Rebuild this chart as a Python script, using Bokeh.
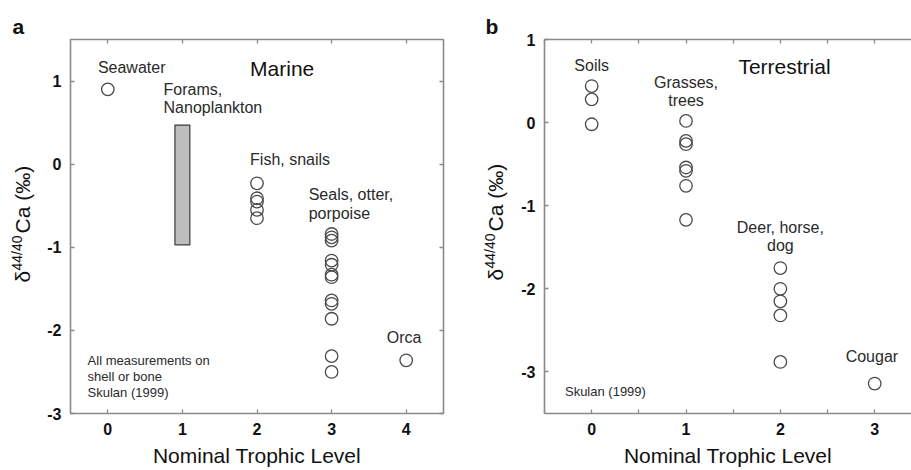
import math
from bokeh.plotting import figure
from bokeh.models import Label, LinearAxis, FixedTicker, ColumnDataSource, Range1d
from bokeh.layouts import row
from bokeh.embed import file_html
from bokeh.resources import INLINE
from bokeh.core.properties import value

# ---------------- data ----------------
# Panel a: Marine
seawater = [0.90]                     # trophic level 0
forams_range = [-0.97, 0.47]          # trophic level 1 (bar)
fish_snails = [-0.23, -0.41, -0.45, -0.55, -0.65]            # level 2
seals_otter_porpoise = [-0.84, -0.88, -0.92, -1.16, -1.21, -1.33,
                        -1.36, -1.64, -1.68, -1.86, -2.31, -2.50]  # level 3
orca = [-2.36]                        # level 4

# Panel b: Terrestrial
soils = [0.44, 0.28, -0.02]                                   # level 0
grasses_trees = [0.02, -0.22, -0.26, -0.54, -0.58, -0.76, -1.17]  # level 1
deer_horse_dog = [-1.75, -2.00, -2.15, -2.32, -2.88]          # level 2
cougar = [-3.14]                                              # level 3

x_ticks_a = [0, 1, 2, 3, 4]
y_ticks_a = [-3, -2, -1, 0, 1]
x_ticks_b = [0, 1, 2, 3]
x_minor_b = [-0.5, 0.5, 1.5, 2.5, 3.5]
y_ticks_b = [-3, -2, -1, 0, 1]

FONT = "Liberation Sans"
TXT = "#2a2a2a"
DARK = "#111111"
FRAME = "#8a8a8a"
H = 470
FRAME_TOP, FRAME_BOTTOM = 39, 413


def group_source(groups):
    xs, ys = [], []
    for lvl, vals in groups:
        xs += [lvl] * len(vals)
        ys += vals
    return ColumnDataSource(dict(x=xs, y=ys))


def lab(p, x, y, text, size=16, align="left", color=TXT):
    p.add_layout(Label(x=x, y=y, text=text, text_font=FONT,
                       text_font_size=f"{size}px", text_align=align,
                       text_baseline="middle", text_color=color))


def style_axis(ax, ticks, labels=True, line=False, minor=None):
    ax.ticker = FixedTicker(ticks=ticks, minor_ticks=minor or [])
    ax.major_tick_in = 4
    ax.major_tick_out = 0
    ax.minor_tick_in = 4 if minor else 0
    ax.minor_tick_out = 0
    ax.major_tick_line_color = FRAME
    ax.minor_tick_line_color = FRAME
    ax.major_tick_line_width = 1.3
    ax.minor_tick_line_width = 1.3
    ax.axis_line_color = FRAME if line else None
    ax.axis_line_width = 1.6
    if labels:
        ax.major_label_text_font = FONT
        ax.major_label_text_font_style = "bold"
        ax.major_label_text_font_size = "16px"
        ax.major_label_text_color = DARK
        ax.major_label_standoff = 9
        ax.major_label_overrides = {t: str(t) for t in ticks}
    else:
        ax.major_label_overrides = {t: "" for t in ticks}
        ax.major_label_standoff = 0


def x_title(ax):
    ax.axis_label = "Nominal Trophic Level"
    ax.axis_label_text_font = FONT
    ax.axis_label_text_font_size = "21px"
    ax.axis_label_text_font_style = "normal"
    ax.axis_label_text_color = DARK
    ax.axis_label_standoff = 6


def base_fig(xr, yr, w, bl, br, bt, bb):
    p = figure(x_range=xr, y_range=yr, width=w, height=H,
               output_backend="svg", toolbar_location=None,
               min_border_left=bl, min_border_right=br,
               min_border_top=bt, min_border_bottom=bb)
    p.grid.visible = False
    p.background_fill_color = "white"
    p.border_fill_color = "white"
    return p


def side_fig(w, letter, letter_off, ax_x, sup_dx, y_delta, y_sup, y_ca):
    """Narrow figure carrying the panel letter (title) and the rotated y title.
    Its frame is aligned with the panels' frames, so y is -(page pixel y)."""
    s = figure(x_range=Range1d(0, w), y_range=Range1d(-FRAME_BOTTOM, -FRAME_TOP),
               width=w, height=H, output_backend="svg", toolbar_location=None,
               min_border_left=0, min_border_right=0,
               min_border_top=FRAME_TOP, min_border_bottom=H - FRAME_BOTTOM)
    s.axis.visible = False
    s.grid.visible = False
    s.outline_line_color = None
    s.title.text = letter
    s.title.align = "left"
    s.title.offset = letter_off
    s.title.standoff = 3
    s.title.text_font = FONT
    s.title.text_font_size = "21px"
    s.title.text_font_style = "bold"
    s.title.text_color = DARK
    rot = math.pi / 2
    s.text(x=[ax_x], y=[-y_delta], text=["δ"], text_font=value(FONT),
           text_font_size=value("21px"), angle=rot, text_align="left",
           text_baseline="middle", text_color=DARK)
    s.text(x=[ax_x - sup_dx], y=[-y_sup], text=["44/40"], text_font=value(FONT),
           text_font_size=value("14px"), angle=rot, text_align="left",
           text_baseline="middle", text_color=DARK)
    s.text(x=[ax_x], y=[-y_ca], text=["Ca (‰)"], text_font=value(FONT),
           text_font_size=value("21px"), angle=rot, text_align="left",
           text_baseline="middle", text_color=DARK)
    return s


# ---------------- panel a ----------------
sa = side_fig(40, "a", 12, 22, 6, 282, 270, 233)

pa = base_fig((-0.5, 4.5), (-3, 1.5), 438, 30, 35, FRAME_TOP, H - FRAME_BOTTOM)
pa.outline_line_color = FRAME
pa.outline_line_width = 1.6
style_axis(pa.xaxis[0], x_ticks_a)
style_axis(pa.yaxis[0], y_ticks_a)
x_title(pa.xaxis[0])
top_a = LinearAxis()
style_axis(top_a, x_ticks_a, labels=False)
pa.add_layout(top_a, "above")
right_a = LinearAxis()
style_axis(right_a, y_ticks_a, labels=False)
pa.add_layout(right_a, "right")

pa.vbar(x=[1], bottom=[forams_range[0]], top=[forams_range[1]], width=0.2,
        fill_color="#bdbdbd", line_color="#3a3a3a", line_width=1.2)
src_a = group_source([(0, seawater), (2, fish_snails),
                      (3, seals_otter_porpoise), (4, orca)])
pa.scatter("x", "y", source=src_a, marker="circle", size=12.5,
           fill_color="white", fill_alpha=0.0, line_color="#4a4a4a",
           line_width=1.3)

lab(pa, -0.133, 1.165, "Seawater")
lab(pa, 1.907, 1.156, "Marine", size=21, color=DARK)
lab(pa, 0.747, 0.897, "Forams,")
lab(pa, 0.747, 0.68, "Nanoplankton")
lab(pa, 1.907, 0.056, "Fish, snails")
lab(pa, 2.693, -0.36, "Seals, otter,")
lab(pa, 2.693, -0.59, "porpoise")
lab(pa, 3.74, -2.09, "Orca")
lab(pa, -0.271, -2.36, "All measurements on", size=13)
lab(pa, -0.271, -2.55, "shell or bone", size=13)
lab(pa, -0.271, -2.75, "Skulan (1999)", size=13)

# ---------------- panel b ----------------
sb = side_fig(34, "b", 7, 17, 6, 280, 268, 231)

pb = base_fig((-0.5, 3.39), (-3.5, 1.0), 399, 32, 0, FRAME_TOP, H - FRAME_BOTTOM)
pb.outline_line_color = None
style_axis(pb.xaxis[0], x_ticks_b, line=True, minor=x_minor_b)
style_axis(pb.yaxis[0], y_ticks_b, line=True)
x_title(pb.xaxis[0])
top_b = LinearAxis()
style_axis(top_b, x_ticks_b, labels=False, line=True, minor=x_minor_b)
pb.add_layout(top_b, "above")

src_b = group_source([(0, soils), (1, grasses_trees),
                      (2, deer_horse_dog), (3, cougar)])
pb.scatter("x", "y", source=src_b, marker="circle", size=12.5,
           fill_color="white", fill_alpha=0.0, line_color="#4a4a4a",
           line_width=1.3)

lab(pb, 0.0, 0.687, "Soils", align="center")
lab(pb, 1.0, 0.488, "Grasses,", align="center")
lab(pb, 1.0, 0.27, "trees", align="center")
lab(pb, 1.555, 0.68, "Terrestrial", size=21, color=DARK)
lab(pb, 2.0, -1.258, "Deer, horse,", align="center")
lab(pb, 2.0, -1.476, "dog", align="center")
lab(pb, 2.97, -2.81, "Cougar", align="center")
lab(pb, -0.283, -3.23, "Skulan (1999)", size=13)

layout = row(sa, pa, sb, pb)
open("out.html", "w").write(file_html(layout, INLINE))
